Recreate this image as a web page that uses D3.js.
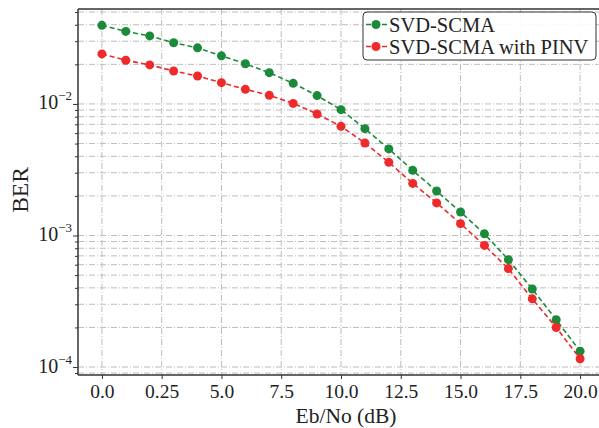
<!DOCTYPE html>
<html lang="en">
<head>
    <meta charset="UTF-8">
    <title>BER</title>
    <script src="https://d3js.org/d3.v7.min.js"></script>
    <style>
        body { margin: 0; background: #fff; }
        text { font-family: "Liberation Serif", "DejaVu Serif", serif; fill: #222; }
        .grid line { stroke: #bdbdbd; stroke-width: 1; stroke-dasharray: 6,2,1,2; }
    </style>
</head>
<body>
    <div id="chart"></div>

    <script>
        // Eb/No points (dB)
        const snr = [0, 1, 2, 3, 4, 5, 6, 7, 8, 9, 10, 11, 12, 13, 14, 15, 16, 17, 18, 19, 20];

        // BER
        const berSvd = [0.0396, 0.0356, 0.0329, 0.0292, 0.0267, 0.0232, 0.0202, 0.0173, 0.01435, 0.01157,
                        0.00905, 0.00649, 0.00455, 0.00313, 0.00218, 0.00151, 0.00103, 0.000655, 0.000392, 0.000229, 0.000132];
        const berPinv = [0.0240, 0.0215, 0.0198, 0.0178, 0.0163, 0.01452, 0.01291, 0.01162, 0.0101, 0.00839,
                         0.00676, 0.00505, 0.0036, 0.00249, 0.00177, 0.00123, 0.000841, 0.00056, 0.00033, 0.0002, 0.0001156];

        const seriesNames = ["SVD-SCMA", "SVD-SCMA with PINV"];
        const seriesColors = ["#1b8a3a", "#ee2a2a"];

        const xTickValues = [0, 2.5, 5, 7.5, 10, 12.5, 15, 17.5, 20];
        const xTickLabels = ["0.0", "0.25", "5.0", "7.5", "10.0", "12.5", "15.0", "17.5", "20.0"];
        const yTickValues = [1e-4, 1e-3, 1e-2];
        const yTickExps = ["\u22124", "\u22123", "\u22122"];

        const W = 599, H = 428;
        const margin = { top: 9, right: -5, bottom: 53, left: 78 };
        const width = W - margin.left - margin.right;
        const height = H - margin.top - margin.bottom;

        const svg = d3.select("#chart").append("svg")
            .attr("width", W)
            .attr("height", H);

        const g = svg.append("g")
            .attr("transform", `translate(${margin.left},${margin.top})`);

        const x = d3.scaleLinear().domain([-1, 21]).range([0, width]);
        const y = d3.scaleLog().domain([8.7e-5, 0.0527]).range([height, 0]);

        // minor log ticks for the grid
        const minor = [9e-5];
        [1e-4, 1e-3, 1e-2].forEach(d => {
            for (let k = 1; k <= 9; k++) {
                const v = d * k;
                if (v >= y.domain()[0] && v <= y.domain()[1]) minor.push(v);
            }
        });

        // grid
        g.append("g").attr("class", "grid")
            .selectAll("line").data(minor).enter().append("line")
            .attr("x1", 0).attr("x2", width)
            .attr("y1", d => y(d)).attr("y2", d => y(d));

        g.append("g").attr("class", "grid")
            .selectAll("line").data(xTickValues).enter().append("line")
            .attr("x1", d => x(d)).attr("x2", d => x(d))
            .attr("y1", 0).attr("y2", height);

        // axes
        const xAxis = g.append("g")
            .attr("transform", `translate(0,${height})`)
            .call(d3.axisBottom(x).tickValues(xTickValues)
                .tickFormat((d, i) => xTickLabels[i]).tickSize(4).tickPadding(5));
        xAxis.selectAll("text").style("font-size", "19.5px").attr("fill", "#222");

        const yAxis = g.append("g")
            .call(d3.axisLeft(y).tickValues(minor).tickFormat("").tickSize(3));
        yAxis.selectAll(".tick line").filter(d => yTickValues.indexOf(d) >= 0).attr("x2", -5);

        [xAxis, yAxis].forEach(a => {
            a.select(".domain").attr("stroke", "#333").attr("stroke-width", 1.5);
            a.selectAll(".tick line").attr("stroke", "#333");
        });
        yAxis.select(".domain").attr("d", `M0,0V${height}`);
        xAxis.select(".domain").attr("d", `M0,0H${width}`);

        // top spine
        g.append("line")
            .attr("x1", 0).attr("x2", width)
            .attr("y1", 0).attr("y2", 0)
            .attr("stroke", "#333").attr("stroke-width", 1.5);

        // y tick labels as 10^n
        const yl = g.append("g").selectAll("text").data(yTickValues).enter().append("text")
            .attr("x", -6)
            .attr("y", d => y(d) + 5.5)
            .attr("text-anchor", "end");
        yl.append("tspan").style("font-size", "20px").text("10");
        yl.append("tspan").attr("dy", -9).style("font-size", "13px").text((d, i) => yTickExps[i]);

        // axis titles
        svg.append("text")
            .attr("transform", "translate(28,190) rotate(-90)")
            .attr("text-anchor", "middle")
            .style("font-size", "23.5px")
            .text("BER");

        svg.append("text")
            .attr("x", 346).attr("y", 423)
            .attr("text-anchor", "middle")
            .style("font-size", "21.5px")
            .text("Eb/No (dB)");

        // series
        const series = [berSvd, berPinv];
        const line = d3.line().x((d, i) => x(snr[i])).y(d => y(d));

        series.forEach((vals, s) => {
            g.append("path")
                .datum(vals)
                .attr("fill", "none")
                .attr("stroke", seriesColors[s])
                .attr("stroke-width", 1.6)
                .attr("stroke-dasharray", "5,3")
                .attr("d", line);

            g.selectAll(".pt" + s).data(vals).enter().append("circle")
                .attr("class", "pt" + s)
                .attr("cx", (d, i) => x(snr[i]))
                .attr("cy", d => y(d))
                .attr("r", 4.5)
                .attr("fill", seriesColors[s]);
        });

        // legend
        const lg = svg.append("g").attr("transform", "translate(363,12)");
        lg.append("rect")
            .attr("width", 233).attr("height", 48)
            .attr("rx", 4)
            .attr("fill", "#fff").attr("fill-opacity", 0.9)
            .attr("stroke", "#333").attr("stroke-width", 1);

        seriesNames.forEach((name, i) => {
            const row = lg.append("g").attr("transform", `translate(0,${12.5 + i * 22})`);
            row.append("line")
                .attr("x1", 3).attr("x2", 25)
                .attr("stroke", seriesColors[i]).attr("stroke-width", 1.6)
                .attr("stroke-dasharray", "5,3");
            row.append("circle").attr("cx", 13).attr("r", 4.5).attr("fill", seriesColors[i]);
            row.append("text")
                .attr("x", 26).attr("y", 7)
                .style("font-size", "20.5px")
                .text(name);
        });
    </script>
</body>
</html>
